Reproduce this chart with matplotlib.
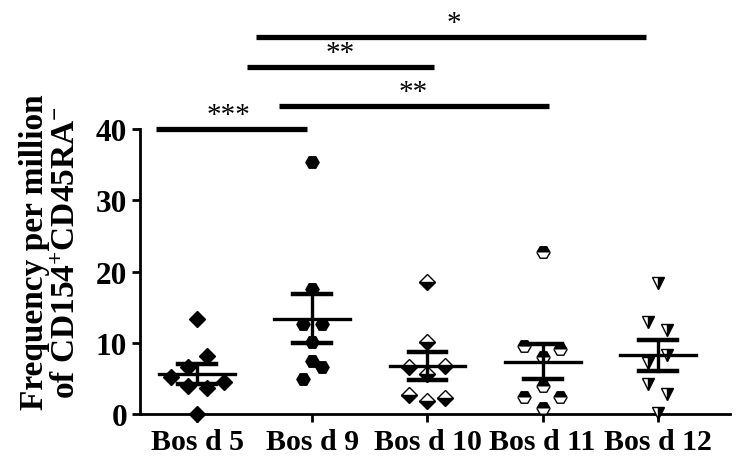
import numpy as np
import matplotlib
matplotlib.use("Agg")
from matplotlib import pyplot as plt

# categories and values
categories = ["Bos d 5", "Bos d 9", "Bos d 10", "Bos d 11", "Bos d 12"]

bos_d5 = [13.3, 8.1, 6.6, 5.2, 4.5, 3.9, 3.6, 0.0]
bos_d9 = [35.4, 17.5, 12.6, 12.6, 10.1, 7.4, 6.6, 4.9]
bos_d10 = [18.5, 10.1, 6.6, 6.7, 5.6, 2.7, 2.2, 1.8]
bos_d11 = [22.7, 9.5, 9.1, 8.0, 3.9, 2.4, 2.4, 0.8]
bos_d12 = [18.4, 12.9, 11.8, 8.3, 7.2, 4.2, 2.8, 0.1]

# horizontal scatter offset of each point within its column
offsets_d5 = [0, 0.08, -0.08, -0.23, 0.23, -0.08, 0.08, 0]
offsets_d9 = [0, 0, -0.08, 0.08, 0, 0, 0.08, -0.08]
offsets_d10 = [0, 0, -0.16, 0.15, 0, -0.16, 0.15, 0]
offsets_d11 = [0, -0.16, 0.15, 0, 0, -0.16, 0.15, 0]
offsets_d12 = [0, -0.08, 0.08, 0.08, -0.08, -0.08, 0.08, 0]

ytick_values = [0, 10, 20, 30, 40]

# significance brackets
sig_x0 = [-0.36, 0.71, 0.43, 0.51]
sig_x1 = [0.95, 3.06, 2.06, 3.90]
sig_y = [40.0, 43.2, 48.7, 52.9]
sig_text_x = [0.27, 1.88, 1.24, 2.23]
sig_labels = ["***", "**", "**", "*"]

plt.rcParams['font.family'] = ['Liberation Serif', 'DejaVu Serif']
plt.rcParams['font.weight'] = 'bold'
plt.rcParams['mathtext.fontset'] = 'custom'
plt.rcParams['mathtext.rm'] = 'Liberation Serif:bold'
plt.rcParams['mathtext.it'] = 'Liberation Serif:bold'
plt.rcParams['mathtext.bf'] = 'Liberation Serif:bold'

fig = plt.figure(figsize=(7.36, 4.6), dpi=100)
ax = fig.add_axes([0.19, 0.098, 0.802, 0.619])

groups = [bos_d5, bos_d9, bos_d10, bos_d11, bos_d12]
offsets = [offsets_d5, offsets_d9, offsets_d10, offsets_d11, offsets_d12]
markers = ['D', 'H', 'D', 'H', 'v']
fills = ['full', 'full', 'bottom', 'top', 'right']
sizes = [8, 9.5, 8, 9.5, 9]

for i, (vals, offs) in enumerate(zip(groups, offsets)):
	vals = np.array(vals)
	xs = i + np.array(offs)
	ax.plot(xs, vals, linestyle='none', marker=markers[i], ms=sizes[i],
			color='black', markerfacecolor='black', markerfacecoloralt='white',
			markeredgecolor='black', markeredgewidth=1.0, fillstyle=fills[i],
			clip_on=False, zorder=3)
	m = vals.mean()
	sem = vals.std(ddof=1) / np.sqrt(len(vals))
	ax.plot([i - 0.33, i + 0.33], [m, m], color='black', lw=2.4, zorder=4)
	ax.plot([i - 0.165, i + 0.165], [m + sem, m + sem], color='black', lw=3.2, zorder=4)
	ax.plot([i - 0.165, i + 0.165], [m - sem, m - sem], color='black', lw=3.2, zorder=4)
	ax.plot([i, i], [m - sem, m + sem], color='black', lw=2.4, zorder=4)

for x0, x1, y, tx, lab in zip(sig_x0, sig_x1, sig_y, sig_text_x, sig_labels):
	ax.plot([x0, x1], [y, y], color='black', lw=3.8, clip_on=False, solid_capstyle='butt')
	ax.text(tx, y + 0.2, lab, ha='center', va='bottom', fontsize=21, fontweight='normal')

ax.set_xlim(-0.5, 4.63)
ax.set_ylim(0, 40)
ax.set_xticks(range(len(categories)))
ax.set_xticklabels(categories, fontsize=21.5, fontweight='bold')
ax.set_yticks(ytick_values)
ax.set_yticklabels([str(v) for v in ytick_values], fontsize=22.5, fontweight='bold')
ax.tick_params(axis='both', direction='out', length=6, width=2, pad=3)
ax.tick_params(axis='x', pad=4)
ax.spines['top'].set_visible(False)
ax.spines['right'].set_visible(False)
ax.spines['left'].set_linewidth(2)
ax.spines['bottom'].set_linewidth(2)
ax.set_ylabel("Frequency per million\nof CD154$^{+}$CD45RA$^{-}$",
			  fontsize=24, fontweight='bold', linespacing=1.05, labelpad=10)
# label sits a bit above the axis centre in the reference
ax.yaxis.label.set_y(0.57)

fig.savefig("out.png", dpi=100)
